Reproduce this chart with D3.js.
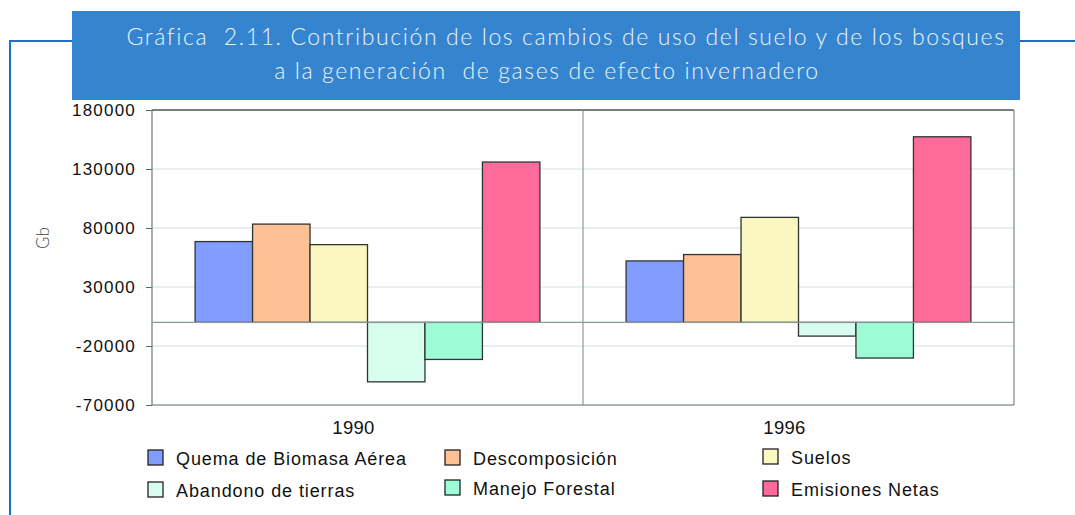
<!DOCTYPE html>
<html lang="es">
<head>
<meta charset="UTF-8">
<title>Gráfica 2.11</title>
<script src="https://d3js.org/d3.v7.min.js"></script>
<style>
  html, body { margin: 0; padding: 0; background: #fff; }
  svg { display: block; }
  .tick-label { font-family: "Liberation Sans", Arial, sans-serif; font-size: 17px; fill: #111; letter-spacing: 1.2px; }
  .year-label { font-family: "Liberation Sans", Arial, sans-serif; font-size: 18.5px; fill: #111; letter-spacing: 0.3px; }
  .legend-label { font-family: "Liberation Sans", Arial, sans-serif; font-size: 18px; fill: #111; letter-spacing: 0.9px; }
  .title { font-family: Lato, "Open Sans", sans-serif; font-weight: 300; font-size: 23px; fill: #eef3fa; letter-spacing: 1.6px; white-space: pre; }
</style>
</head>
<body>
<svg width="1075" height="515"></svg>
<script>
// datos
const years = ["1990", "1996"];
const series = ["Quema de Biomasa Aérea", "Descomposición", "Suelos",
                "Abandono de tierras", "Manejo Forestal", "Emisiones Netas"];
const colors = ["#839cff", "#fdc193", "#faf8c0", "#d6fdee", "#9dfcd6", "#fe6b9a"];
const quema = [68500, 52100];
const descomposicion = [83300, 57500];
const suelos = [65900, 89000];
const abandono = [-50400, -11600];
const manejo = [-31400, -30200];
const emisiones = [135900, 157300];
const yTicks = [-70000, -20000, 30000, 80000, 130000, 180000];

const values = [quema, descomposicion, suelos, abandono, manejo, emisiones];
const svg = d3.select("svg");

// marco azul y cabecera
svg.append("path")
  .attr("d", "M10,515 L10,41 L72,41 M1020,41 L1075,41")
  .attr("fill", "none").attr("stroke", "#1f6fc9").attr("stroke-width", 2);
svg.append("rect").attr("x", 72).attr("y", 11).attr("width", 948).attr("height", 89)
  .attr("fill", "#3584d0");
svg.append("text").attr("class", "title").attr("x", 566).attr("y", 45)
  .attr("text-anchor", "middle")
  .text("Gráfica  2.11. Contribución de los cambios de uso del suelo y de los bosques");
svg.append("text").attr("class", "title").attr("x", 547).attr("y", 79)
  .attr("text-anchor", "middle")
  .text("a la generación  de gases de efecto invernadero");

const pLeft = 152, pRight = 1014, pTop = 110, pBottom = 405;
const y = d3.scaleLinear().domain([-70000, 180000]).range([pBottom, pTop]);
const x0 = d3.scaleBand().domain(years).range([pLeft, pRight]).padding(0);
const x1 = d3.scaleBand().domain(series).range([0, x0.bandwidth()])
  .paddingInner(0).paddingOuter(0.75);

// rejilla
svg.append("g").selectAll("line")
  .data(yTicks.filter(t => t > -70000 && t < 180000))
  .join("line")
  .attr("x1", pLeft).attr("x2", pRight)
  .attr("y1", d => y(d)).attr("y2", d => y(d))
  .attr("stroke", "#d3e0e0").attr("stroke-width", 1.2);

// eje y
const yAxis = svg.append("g").attr("transform", `translate(${pLeft},0)`)
  .call(d3.axisLeft(y).tickValues(yTicks).tickSize(6).tickPadding(10).tickFormat(d => String(d)));
yAxis.select(".domain").remove();
yAxis.selectAll(".tick line").attr("stroke", "#5a6a6a");
yAxis.selectAll(".tick text").attr("class", "tick-label");

// borde del área
svg.append("line").attr("x1", pLeft).attr("x2", pLeft).attr("y1", pTop).attr("y2", pBottom)
  .attr("stroke", "#6a7878").attr("stroke-width", 1.2);
svg.append("line").attr("x1", pLeft).attr("x2", pRight).attr("y1", pTop).attr("y2", pTop)
  .attr("stroke", "#4a5656").attr("stroke-width", 1.5);
svg.append("line").attr("x1", pRight).attr("x2", pRight).attr("y1", pTop).attr("y2", pBottom)
  .attr("stroke", "#7a8888").attr("stroke-width", 1.2);
svg.append("line").attr("x1", pLeft).attr("x2", pRight).attr("y1", pBottom).attr("y2", pBottom)
  .attr("stroke", "#5a6868").attr("stroke-width", 1.2);
svg.append("line").attr("x1", x0("1996")).attr("x2", x0("1996")).attr("y1", pTop).attr("y2", pBottom)
  .attr("stroke", "#7a8888").attr("stroke-width", 1);

// barras
years.forEach((yr, i) => {
  svg.append("g").selectAll("rect")
    .data(series.map((s, j) => ({ s, v: values[j][i], c: colors[j] })))
    .join("rect")
    .attr("x", d => x0(yr) + x1(d.s))
    .attr("y", d => y(Math.max(0, d.v)))
    .attr("width", x1.bandwidth())
    .attr("height", d => Math.abs(y(d.v) - y(0)))
    .attr("fill", d => d.c)
    .attr("stroke", "#2e3434").attr("stroke-width", 1.3);
});

// línea cero
svg.append("line").attr("x1", pLeft).attr("x2", pRight).attr("y1", y(0)).attr("y2", y(0))
  .attr("stroke", "#8a9898").attr("stroke-width", 1.2);

// etiquetas x
svg.append("g").selectAll("text").data(years).join("text")
  .attr("class", "year-label")
  .attr("x", d => x0(d) + x0.bandwidth() / 2 - 14)
  .attr("y", 434)
  .attr("text-anchor", "middle")
  .text(d => d);

// título eje y
svg.append("text")
  .attr("transform", "translate(49,238) rotate(-90)")
  .attr("text-anchor", "middle")
  .attr("font-family", "Lato, 'Open Sans', sans-serif").attr("font-weight", 300)
  .attr("font-size", 17).attr("fill", "#444")
  .text("Gb");

// leyenda
const legendPos = [[148, 450], [445, 450], [763, 449], [148, 482], [445, 480], [763, 481]];
const legend = svg.append("g").selectAll("g").data(series).join("g")
  .attr("transform", (d, i) => `translate(${legendPos[i][0]},${legendPos[i][1]})`);
legend.append("rect").attr("width", 15).attr("height", 15)
  .attr("fill", (d, i) => colors[i]).attr("stroke", "#222").attr("stroke-width", 1.3);
legend.append("text").attr("class", "legend-label")
  .attr("x", 28).attr("y", 15)
  .text(d => d);
</script>
</body>
</html>
